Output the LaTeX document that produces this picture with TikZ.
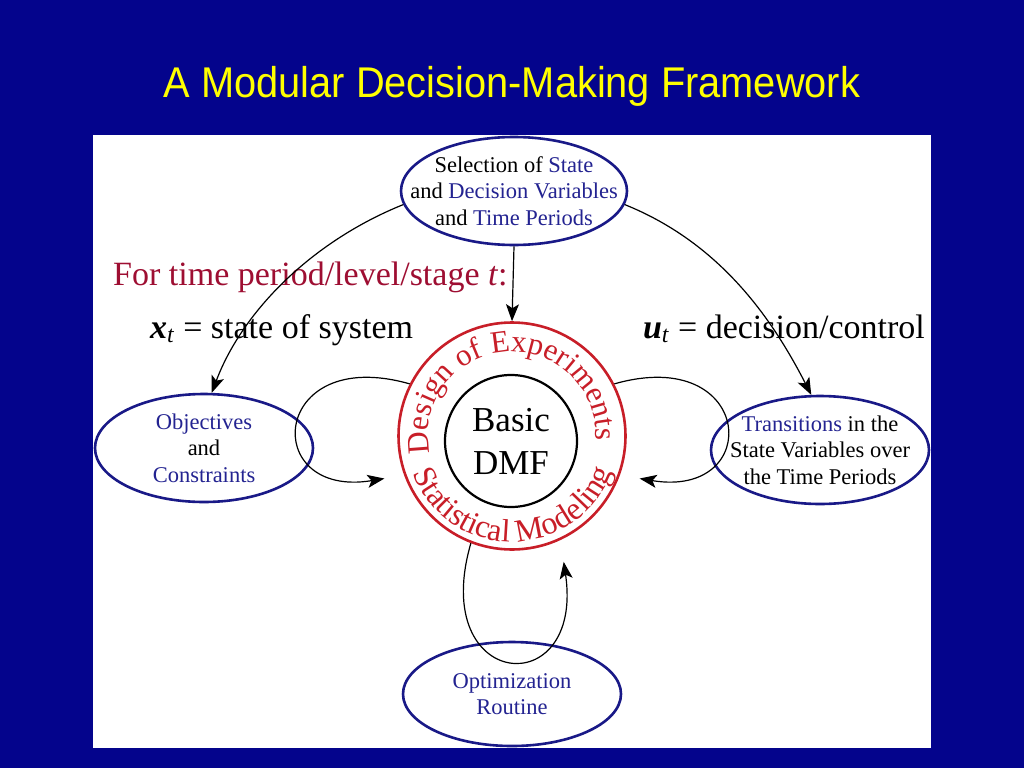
\documentclass[tikz,border=0pt]{standalone}
\usepackage{fontspec}
\setmainfont{Liberation Serif}
\newfontfamily\titlefont[FakeStretch=0.925]{Liberation Sans}
\usetikzlibrary{shapes.geometric,
	arrows.meta,
	decorations.text,
	positioning}
\definecolor{slideblue}{RGB}{4,4,140}
\definecolor{titleyellow}{RGB}{255,255,0}
\definecolor{ringred}{RGB}{200,30,40}
\definecolor{headred}{RGB}{158,14,50}
\definecolor{navyline}{RGB}{25,25,135}
\definecolor{dmfblue}{RGB}{35,35,145}
\newcommand{\blu}[1]{\textcolor{dmfblue}{#1}}
\newcommand{\ringtop}{\fontsize{31}{31}\selectfont\color{ringred}}
\newcommand{\ringbot}{\fontsize{32}{32}\selectfont\color{ringred}}

\begin{document}
\begin{tikzpicture}[x=1pt, y=1pt,
	stage/.style={ellipse, draw=navyline, line width=2.6pt, minimum width=218pt, minimum height=108pt, inner sep=0pt},
	tag/.style={font=\fontsize{22.5}{26.5}\selectfont, align=center, inner sep=0pt},
	link/.style={line width=1.2pt, -{Stealth[length=17pt,width=13pt,inset=4pt]}}]
	% slide and panel
	\fill[slideblue] (0,0) rectangle (1024,-768);
	\fill[white] (93,-135) rectangle (931,-748);
	\node[font=\titlefont\fontsize{43}{43}\selectfont, text=titleyellow, anchor=base, inner sep=0pt] (title) at (512,-97) {A Modular Decision-Making Framework};
	% modules
	\node[stage, minimum width=226pt, label={[tag]center:{Selection of \blu{State}\\and \blu{Decision Variables}\\and \blu{Time Periods}}}] (sel) at (514,-191) {};
	\node[stage, label={[tag]center:{\blu{Objectives}\\and\\\blu{Constraints}}}] (obj) at (204,-448) {};
	\node[stage, label={[tag]center:{\blu{Transitions} in the\\State Variables over\\the Time Periods}}] (trans) at (820,-450) {};
	\node[stage, minimum height=104pt, label={[tag]center:{\blu{Optimization}\\\blu{Routine}}}] (opt) at (512,-694) {};
	% core
	\node[circle, draw=ringred, line width=2.6pt, minimum size=227pt, inner sep=0pt] (ring) at (512,-436) {};
	\node[circle, draw, line width=2.2pt, minimum size=132pt, inner sep=0pt, align=center, font=\fontsize{35}{43}\selectfont] (basic) at (511,-441) {Basic\\DMF};
	\path[decorate, decoration={text along path, text align=center, text={|\ringtop|Design of Experiments}}]
		([shift={(203:84)}]ring.center) arc[start angle=203, end angle=-14, radius=84];
	\path[decorate, decoration={text along path, text align=center, text={|\ringbot|Statistical Modeling}}]
		([shift={(185:106)}]ring.center) arc[start angle=185, end angle=356, radius=106];
	% notation
	\node[anchor=base west, inner sep=0pt, font=\fontsize{34}{34}\selectfont, text=headred] (period) at (113,-285) {For time period/level/stage \textit{t}:};
	\node[anchor=base west, inner sep=0pt, font=\fontsize{34}{34}\selectfont] (state) at (150,-338) {\textbf{\textit{x}}\textsubscript{\textit{t}} = state of system};
	\node[anchor=base east, inner sep=0pt, font=\fontsize{34}{34}\selectfont] (ctrl) at (925,-338) {\textbf{\textit{u}}\textsubscript{\textit{t}} = decision/control};
	% connectors
	\draw[link] (sel.south) -- (ring.north);
	\draw[link] (sel.187) .. controls +(-93,-37.5) and +(30,80) .. (obj.82);
	\draw[link] (sel.-7) .. controls +(93,-37.5) and +(-41,80) .. (trans.99);
	\draw[link, shorten >=20pt] (ring.153) .. controls +(-140,40) and +(-145,-24) .. (ring.200);
	\draw[link, shorten >=20pt] (ring.27) .. controls +(140,40) and +(145,-24) .. (ring.-20);
	\draw[link, shorten >=22pt] (ring.249) .. controls +(-43,-148) and +(24,-164) .. (ring.-65);
\end{tikzpicture}
\end{document}
